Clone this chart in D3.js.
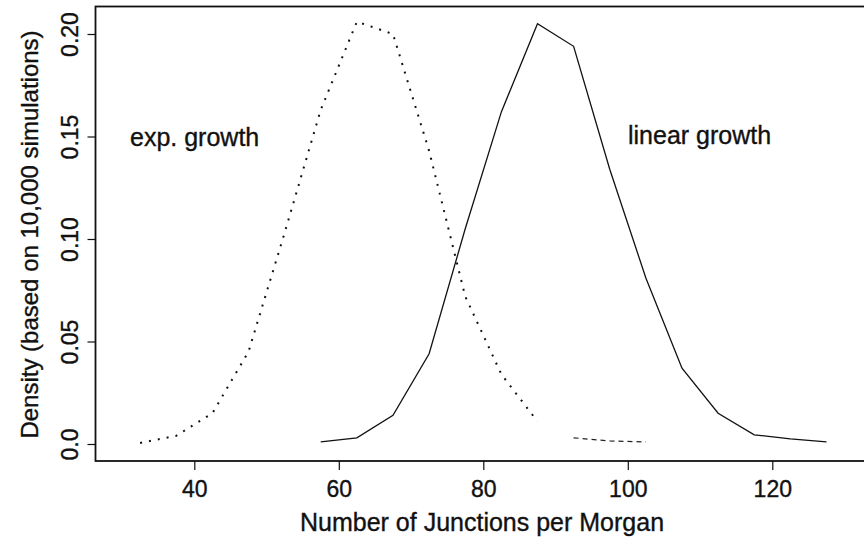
<!DOCTYPE html>
<html>
<head>
<meta charset="utf-8">
<script src="https://cdn.jsdelivr.net/npm/d3@7"></script>
<style>
  html, body { margin: 0; padding: 0; background: #fff; }
  svg { display: block; }
  text { font-family: "Liberation Sans", Arial, Helvetica, sans-serif; fill: #111; stroke: #111; stroke-width: 0.35px; }
</style>
</head>
<body>
<svg id="chart" width="864" height="539"></svg>
<script>
// Simulated densities of junction counts per Morgan (5-unit bins, plotted at bin midpoints)
const expX      = [32.5, 37.5, 42.5, 47.5, 52.5, 57.5, 62.5, 67.5, 72.5, 77.5, 82.5, 87.5];
const expDens   = [0.0005, 0.004, 0.015, 0.045, 0.103, 0.163, 0.206, 0.200, 0.143, 0.072, 0.034, 0.011];
// far upper tail of the exponential-growth density
const expTailX    = [92.5, 97.5, 102.5];
const expTailDens = [0.003, 0.0015, 0.001];

const linX    = [57.5, 62.5, 67.5, 72.5, 77.5, 82.5, 87.5, 92.5, 97.5, 102.5, 107.5, 112.5, 117.5, 122.5, 127.5];
const linDens = [0.001, 0.003, 0.014, 0.044, 0.105, 0.162, 0.205, 0.194, 0.134, 0.081, 0.037, 0.015, 0.0045, 0.0025, 0.001];

const xTicks = [40, 60, 80, 100, 120];
const yTicks = [0, 0.05, 0.10, 0.15, 0.20];
const yTickLabels = ["0.0", "0.05", "0.10", "0.15", "0.20"];

const svg = d3.select("#chart");

const x = d3.scaleLinear().domain([40, 120]).range([194.3, 772.3]);
const y = d3.scaleLinear().domain([0, 0.2]).range([444, 34]);

// plot frame (right side runs past the page edge)
const frame = { left: 95.5, top: 6.5, right: 880, bottom: 461 };
svg.append("rect")
  .attr("x", frame.left).attr("y", frame.top)
  .attr("width", frame.right - frame.left).attr("height", frame.bottom - frame.top)
  .attr("fill", "none").attr("stroke", "#111").attr("stroke-width", 1.8);

// x axis
const gx = svg.append("g")
  .attr("transform", `translate(0,${frame.bottom})`)
  .call(d3.axisBottom(x).tickValues(xTicks).tickFormat(d3.format("d")).tickSize(9).tickPadding(8));
gx.select(".domain").remove();
gx.selectAll(".tick line").attr("stroke", "#111").attr("stroke-width", 1.2);
gx.selectAll(".tick text")
  .attr("font-size", 23).attr("dy", null).attr("y", 36)
  .attr("font-family", "Liberation Sans, Arial, sans-serif");

// y axis, labels set parallel to the axis
const gy = svg.append("g")
  .attr("transform", `translate(${frame.left},0)`)
  .call(d3.axisLeft(y).tickValues(yTicks).tickFormat((d, i) => yTickLabels[i]).tickSize(8));
gy.select(".domain").remove();
gy.selectAll(".tick line").attr("stroke", "#111").attr("stroke-width", 1.2);
gy.selectAll(".tick text")
  .attr("x", null).attr("dy", null)
  .attr("text-anchor", "middle")
  .attr("font-size", 23)
  .attr("font-family", "Liberation Sans, Arial, sans-serif")
  .attr("transform", "translate(-17.5,0) rotate(-90)");

// axis titles
svg.append("text")
  .attr("x", 482).attr("y", 531)
  .attr("text-anchor", "middle").attr("font-size", 25)
  .text("Number of Junctions per Morgan");

svg.append("text")
  .attr("transform", "translate(37.5,234.5) rotate(-90)")
  .attr("text-anchor", "middle").attr("font-size", 24)
  .text("Density (based on 10,000 simulations)");

// curves
const line = d3.line().x(d => x(d[0])).y(d => y(d[1]));

svg.append("path")
  .datum(d3.zip(expX, expDens))
  .attr("d", line)
  .attr("fill", "none").attr("stroke", "#111")
  .attr("stroke-width", 2).attr("stroke-dasharray", "2,7");

svg.append("path")
  .datum(d3.zip(expTailX, expTailDens))
  .attr("d", line)
  .attr("fill", "none").attr("stroke", "#222")
  .attr("stroke-width", 1.2).attr("stroke-dasharray", "5,4");

svg.append("path")
  .datum(d3.zip(linX, linDens))
  .attr("d", line)
  .attr("fill", "none").attr("stroke", "#111")
  .attr("stroke-width", 1.3);

// curve annotations
svg.append("text")
  .attr("x", 130).attr("y", 145.5).attr("font-size", 25)
  .text("exp. growth");

svg.append("text")
  .attr("x", 628).attr("y", 144).attr("font-size", 25)
  .text("linear growth");
</script>
</body>
</html>
